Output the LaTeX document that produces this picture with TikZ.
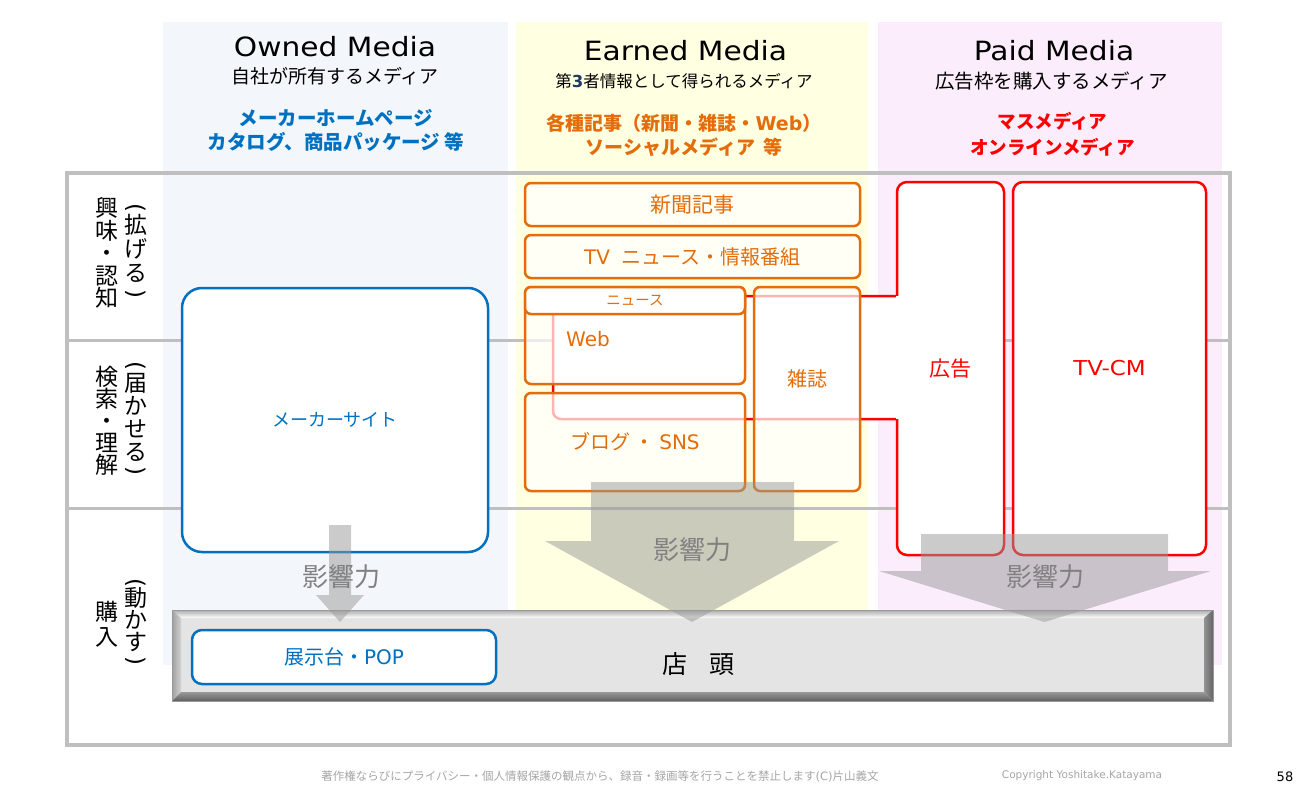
\documentclass[tikz,border=0pt]{standalone}
\usepackage{fontspec}
\setmainfont{Noto Sans CJK JP}
\newfontfamily\lat[FakeStretch=1.12]{DejaVu Sans}
\newfontfamily\latn{DejaVu Sans}
\definecolor{ownbg}{HTML}{F3F6FB}
\definecolor{earnbg}{HTML}{FFFFE1}
\definecolor{paidbg}{HTML}{FCEDFC}
\definecolor{framegray}{HTML}{BFBFBF}
\definecolor{myblue}{HTML}{0070C0}
\definecolor{myorange}{HTML}{E46C0A}
\definecolor{myred}{HTML}{FF0000}
\definecolor{arrowgray}{HTML}{999999}
\definecolor{infl}{HTML}{808080}
\definecolor{navy}{HTML}{1F3864}
\definecolor{footgray}{HTML}{A6A6A6}
\definecolor{shopface}{HTML}{E4E4E4}
\newcommand\fsz[1]{\fontsize{#1}{#1}\selectfont}
\newcommand\vopen{{\latn\rotatebox[origin=c]{-90}{(}}}
\newcommand\vclose{{\latn\rotatebox[origin=c]{-90}{)}}}
\tikzset{
  gridline/.style={draw=framegray, line width=3pt},
  frameline/.style={draw=framegray, line width=3.5pt},
  bbox/.style={draw=myblue, line width=2.5pt, fill=white, text=myblue, inner sep=2pt},
  rbox/.style={draw=myred, line width=2.5pt, fill=white, text=myred, rounded corners=10pt, inner sep=2pt, font=\fsz{21}},
  obox/.style={draw=myorange, line width=2.5pt, fill=white, fill opacity=0.7, text opacity=1, text=myorange, rounded corners=6pt, inner sep=2pt},
  otext/.style={text=myorange, inner sep=0pt},
  redline/.style={draw=myred, line width=2.5pt},
  arrowfill/.style={fill=arrowgray, fill opacity=0.5},
  inftext/.style={text=infl, font=\fsz{26}, inner sep=0pt},
  vlab/.style={align=center, inner sep=0pt},
}
\begin{document}
\begin{tikzpicture}[x=1pt,y=-1pt]
\fill[white] (0,0) rectangle (1300,789);
\useasboundingbox (0,0) rectangle (1300,789);
% column backgrounds
\fill[ownbg] (163,22) rectangle (508,665);
\fill[earnbg] (516,22) rectangle (868,665);
\fill[paidbg] (878,22) rectangle (1222,665);
% grid
\draw[gridline] (67,340) -- (1230,340);
\draw[gridline] (67,508) -- (1230,508);
\draw[frameline] (67,173) rectangle (1230,745);
% owned
\node[bbox, rounded corners=20pt, minimum width=306pt, minimum height=264pt, font=\fsz{18}] (maker) at (335,420) {メーカーサイト};
% paid
\node[rbox, minimum width=107pt, minimum height=373pt] (kokoku) at (950.5,368.5) {広告};
\node[rbox, minimum width=193pt, minimum height=373pt] (tvcm) at (1109.5,368.5) {{\lat\fsz{20.5}TV-CM}};
% tab of kokoku reaching into earned column
\coordinate (tabTL) at (553,296);
\coordinate (tabBL) at (553,419);
\fill[white] (553,296) rectangle (898.6,419);
\draw[redline, rounded corners=8pt] (kokoku.west |- tabTL) -- (tabTL) -- (tabBL) -- (kokoku.west |- tabBL);
% earned
\node[obox, minimum width=335pt, minimum height=43pt, font=\fsz{21}] (shinbun) at (692.5,204.5) {新聞記事};
\node[obox, minimum width=335pt, minimum height=43pt, font=\fsz{20}] (tv) at (692.5,256.5) {{\latn TV}\hspace{12pt}ニュース・情報番組};
\node[obox, minimum width=220pt, minimum height=97pt] (web) at (635,335.5) {};
\node[obox, minimum width=220pt, minimum height=98pt, font=\fsz{20}] (blog) at (635,442) {ブログ ・ {\latn SNS}};
\node[obox, minimum width=106pt, minimum height=204pt] (zasshi) at (807,389) {};
\node[obox, fill opacity=1, minimum width=220pt, minimum height=27pt, font=\fsz{14.5}] (news) at (635,300.5) {ニュース};
\node[otext, font={\latn\fsz{20}}] (webt) at (588,339) {Web};
\node[otext, font=\fsz{20}] (zasshit) at (807,379) {雑誌};
% shop
\fill[shopface] (181,618) rectangle (1204,692);
\shade[top color=gray!65, bottom color=white] (172,610) -- (1213,610) -- (1204,618) -- (181,618) -- cycle;
\shade[left color=gray!75, right color=gray!35] (172,610) -- (181,618) -- (181,692) -- (172,701) -- cycle;
\shade[top color=gray!80, bottom color=gray!75!black] (172,701) -- (181,692) -- (1204,692) -- (1213,701) -- cycle;
\shade[left color=gray!85, right color=gray!80!black] (1213,610) -- (1204,618) -- (1204,692) -- (1213,701) -- cycle;
\draw[gray!80, line width=0.8pt] (172,610) rectangle (1213,701);
\node[font=\fsz{25}, inner sep=0pt] (tento) at (698,664) {店\hspace{22pt}頭};
\node[bbox, rounded corners=10pt, minimum width=304pt, minimum height=54pt, font=\fsz{20}] (pop) at (344,657) {展示台・{\latn POP}};
% influence arrows
\fill[arrowfill] (329,525) -- (351,525) -- (351,595) -- (364,595) -- (340,622) -- (316,595) -- (329,595) -- cycle;
\fill[arrowfill] (591,482) -- (794,482) -- (794,541) -- (839,541) -- (692,622) -- (545,541) -- (591,541) -- cycle;
\fill[arrowfill] (921,534) -- (1168,534) -- (1168,571) -- (1211,571) -- (1044.5,622) -- (879,571) -- (921,571) -- cycle;
\node[inftext] (inf1) at (341,577) {影響力};
\node[inftext] (inf2) at (692,550) {影響力};
\node[inftext] (inf3) at (1045,577) {影響力};
% headers
\node[font={\lat\fsz{26.5}}] (ownT) at (335,47) {Owned Media};
\node[font=\fsz{19}] (ownS) at (335,76) {自社が所有するメディア};
\node[font={\bfseries\fontsize{19.5}{24}\selectfont}, text=myblue, align=center] (ownL) at (336,130) {メーカーホームページ\\カタログ、商品パッケージ 等};
\node[font={\lat\fsz{26.5}}] (earnT) at (685.5,51) {Earned Media};
\node[font=\fsz{16.5}] (earnS) at (684,81) {第{\latn\bfseries\color{navy}3}者情報として得られるメディア};
\node[font={\bfseries\fontsize{19}{24}\selectfont}, text=myorange, align=center] (earnL) at (684,135) {各種記事（新聞・雑誌・{\latn Web}）\\ソーシャルメディア\hspace{8pt}等};
\node[font={\lat\fsz{26.5}}] (paidT) at (1054,51) {Paid Media};
\node[font=\fsz{19.5}] (paidS) at (1051.5,81) {広告枠を購入するメディア};
\node[font={\bfseries\fontsize{18.5}{26}\selectfont}, text=myred, align=center] (paidL) at (1052.5,134) {マスメディア\\オンラインメディア};
% vertical row labels
\node[vlab, font={\fontsize{23}{22.5}\selectfont}] (r1a) at (107,253) {興\\味\\・\\認\\知};
\node[vlab, font={\fontsize{23}{24}\selectfont}] (r1b) at (136,252) {\vopen\\[-5pt]拡\\げ\\る\\[-5pt]\vclose};
\node[vlab, font={\fontsize{23}{22}\selectfont}] (r2a) at (107,421) {検\\索\\・\\理\\解};
\node[vlab, font={\fontsize{23}{23}\selectfont}] (r2b) at (136,420) {\vopen\\[-5pt]届\\か\\せ\\る\\[-5pt]\vclose};
\node[vlab, font={\fontsize{23}{25}\selectfont}] (r3a) at (107,624.5) {購\\入};
\node[vlab, font={\fontsize{23}{22}\selectfont}] (r3b) at (136,623) {\vopen\\[-5pt]動\\か\\す\\[-5pt]\vclose};
% footer
\node[font=\fsz{11.5}, text=footgray] (foot1) at (600,776) {著作権ならびにプライバシー・個人情報保護の観点から、録音・録画等を行うことを禁止します{\latn (C)}片山義文};
\node[font={\latn\fsz{10.5}}, text=footgray] (foot2) at (1082,776) {Copyright Yoshitake.Katayama};
\node[font={\latn\fsz{13}}] (pnum) at (1285,777) {58};
\end{tikzpicture}
\end{document}
